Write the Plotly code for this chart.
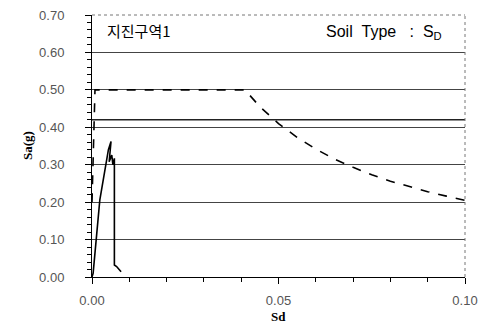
import plotly.graph_objects as go

# Demand spectrum (dashed)
demand_sd = [0.0, 0.0008, 0.041, 0.045, 0.050, 0.055, 0.060, 0.065, 0.070, 0.075, 0.080, 0.085, 0.090, 0.095, 0.100]
demand_sa = [0.20, 0.50, 0.50, 0.455, 0.410, 0.373, 0.342, 0.315, 0.293, 0.273, 0.256, 0.241, 0.228, 0.216, 0.205]

# Capacity / response curve (solid)
resp_sd = [0.0, 0.0003, 0.0021, 0.0035, 0.0044, 0.0051, 0.0046, 0.0053, 0.0056, 0.0060, 0.0060, 0.0066, 0.0071, 0.0078]
resp_sa = [0.0, 0.01, 0.206, 0.29, 0.34, 0.362, 0.308, 0.326, 0.300, 0.317, 0.032, 0.028, 0.023, 0.014]

# Horizontal reference level
level_sa = 0.42
level_sd = [0.0, 0.10]

x_ticks = [0.00, 0.05, 0.10]
x_labels = ["0.00", "0.05", "0.10"]
y_ticks = [0.0, 0.1, 0.2, 0.3, 0.4, 0.5, 0.6, 0.7]
y_labels = ["0.00", "0.10", "0.20", "0.30", "0.40", "0.50", "0.60", "0.70"]

fig = go.Figure()
fig.add_trace(go.Scatter(x=level_sd, y=[level_sa] * len(level_sd), mode="lines",
                         line=dict(color="#222", width=1.6), hoverinfo="skip"))
fig.add_trace(go.Scatter(x=demand_sd, y=demand_sa, mode="lines",
                         line=dict(color="black", width=1.6, dash="dash")))
fig.add_trace(go.Scatter(x=resp_sd, y=resp_sa, mode="lines",
                         line=dict(color="black", width=1.6)))

# dotted top and right border
fig.add_shape(type="line", xref="paper", yref="paper", x0=0, x1=1, y0=1, y1=1,
              line=dict(color="#777", width=1, dash="dot"))
fig.add_shape(type="line", xref="paper", yref="paper", x0=1, x1=1, y0=0, y1=1,
              line=dict(color="#777", width=1, dash="dot"))

fig.add_annotation(text="지진구역1", xref="paper", yref="paper", x=0.035, y=0.94,
                   xanchor="left", yanchor="middle", showarrow=False,
                   font=dict(family="Noto Sans CJK KR", size=15, color="black"))
fig.add_annotation(text="Soil\u00a0\u00a0Type\u00a0\u00a0 :\u00a0 S<sub>D</sub>", xref="paper", yref="paper",
                   x=0.945, y=0.935, xanchor="right", yanchor="middle", showarrow=False,
                   font=dict(family="Liberation Sans", size=16, color="black"))

# axis titles
fig.add_annotation(text="<b>Sd</b>", xref="paper", yref="paper", x=0.5, y=-0.152,
                   xanchor="center", yanchor="middle", showarrow=False,
                   font=dict(family="Liberation Serif", size=13, color="black"))
fig.add_annotation(text="<b>Sa(g)</b>", xref="paper", yref="paper", x=-0.174, y=0.5,
                   xanchor="center", yanchor="middle", showarrow=False, textangle=-90,
                   font=dict(family="Liberation Serif", size=13, color="black"))

fig.update_layout(
    width=479, height=334,
    margin=dict(l=92, r=14, t=15, b=57, autoexpand=False),
    paper_bgcolor="white", plot_bgcolor="white",
    showlegend=False,
    font=dict(family="Liberation Sans", size=13, color="#555"),
)
fig.update_xaxes(range=[0, 0.10], tickvals=x_ticks, ticktext=x_labels, automargin=False,
                 showgrid=False, zeroline=False, showline=True, linecolor="black", linewidth=1,
                 ticks="outside", ticklen=6, tickcolor="black", ticklabeloverflow="allow",
                 minor=dict(dtick=0.01, ticks="outside", ticklen=4, tickcolor="black", showgrid=False),
                 ticklabelstandoff=5)
fig.update_yaxes(range=[0, 0.70], tickvals=y_ticks, ticktext=y_labels, automargin=False,
                 showgrid=True, gridcolor="#444", gridwidth=1, zeroline=False,
                 showline=True, linecolor="black", linewidth=1,
                 ticks="outside", ticklen=6, tickcolor="black", ticklabeloverflow="allow",
                 minor=dict(dtick=0.02, ticks="outside", ticklen=4, tickcolor="black", showgrid=False),
                 ticklabelstandoff=18)

fig.write_html("out.html", config={"displayModeBar": False},
               post_script="document.body.style.margin='0';document.body.style.overflow='hidden';")
